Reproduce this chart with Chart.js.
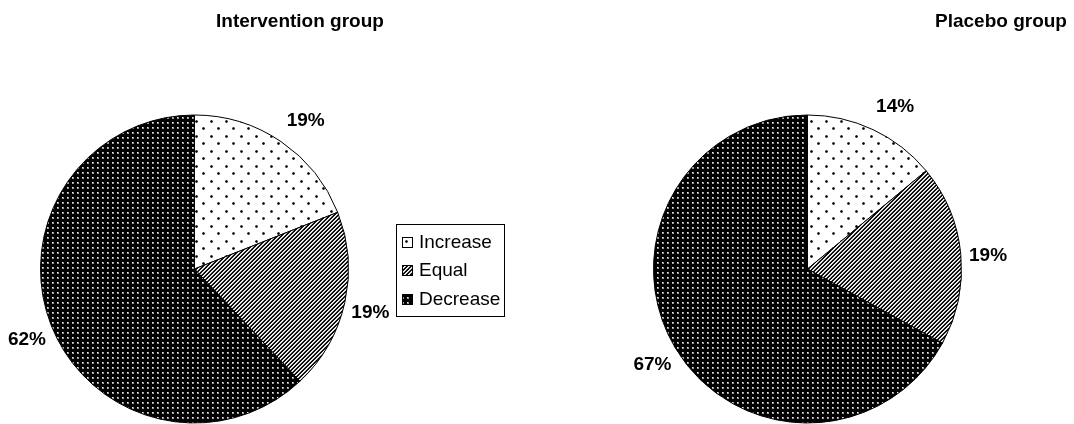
<!DOCTYPE html>
<html><head><meta charset="utf-8">
<script src="https://cdn.jsdelivr.net/npm/chart.js@4.4.0/dist/chart.umd.min.js"></script>
<style>
html,body{margin:0;padding:0;background:#fff;}
#wrap{position:relative;width:1074px;height:424px;overflow:hidden;background:#fff;}
canvas{position:absolute;top:0;}
</style></head><body>
<div id="wrap">
<canvas id="c1" width="540" height="424" style="left:0;width:540px;height:424px"></canvas>
<canvas id="c2" width="534" height="424" style="left:540px;width:534px;height:424px"></canvas>
</div>
<script>
const categories = ['Increase', 'Equal', 'Decrease'];
const interventionValues = [19, 19, 62];
const placeboValues = [14, 19, 67];
const chartTitles = ['Intervention group', 'Placebo group'];

const FONT = '"Liberation Sans", Arial, sans-serif';

function makeTile(w, h, draw) {
  const c = document.createElement('canvas');
  c.width = w; c.height = h;
  draw(c.getContext('2d'), w, h);
  return c;
}
const tiles = [
  makeTile(15, 15, (x) => {
    x.fillStyle = '#fff'; x.fillRect(0, 0, 15, 15);
    x.fillStyle = '#aaa'; x.fillRect(0, 0, 3, 3); x.fillRect(7, 7, 3, 3);
    x.fillStyle = '#333'; x.fillRect(1, 0, 1, 3); x.fillRect(0, 1, 3, 1);
    x.fillRect(8, 7, 1, 3); x.fillRect(7, 8, 3, 1);
    x.fillStyle = '#000'; x.fillRect(1, 1, 1, 1); x.fillRect(8, 8, 1, 1);
  }),
  makeTile(4, 4, (x) => {
    const img = x.createImageData(4, 4);
    const shades = [0, 30, 255, 200];
    for (let yy = 0; yy < 4; yy++) for (let xx = 0; xx < 4; xx++) {
      const v = shades[(xx + yy) % 4];
      const i = (yy * 4 + xx) * 4;
      img.data[i] = img.data[i + 1] = img.data[i + 2] = v; img.data[i + 3] = 255;
    }
    x.putImageData(img, 0, 0);
  }),
  makeTile(5, 5, (x) => {
    x.fillStyle = '#000'; x.fillRect(0, 0, 5, 5);
    x.fillStyle = '#999'; x.fillRect(2, 2, 2, 2);
    x.fillStyle = '#eee'; x.fillRect(2, 2, 1, 1);
  })
];

const labelPlugin = {
  id: 'pctLabels',
  afterDatasetsDraw(chart) {
    const ctx = chart.ctx;
    const meta = chart.getDatasetMeta(0);
    const vals = chart.data.datasets[0].data;
    ctx.save();
    ctx.font = 'bold 19px ' + FONT;
    ctx.fillStyle = '#000';
    ctx.textAlign = 'center';
    ctx.textBaseline = 'middle';
    meta.data.forEach((arc, i) => {
      const p = arc.getProps(['x', 'y', 'startAngle', 'endAngle', 'outerRadius'], true);
      const mid = (p.startAngle + p.endAngle) / 2;
      const c = Math.cos(mid), s = Math.sin(mid);
      const r = p.outerRadius * 1.17;
      const extraX = s < 0 ? 12 * (-s) * Math.sign(c) : 0;
      const extraY = s > -0.5 ? 3 : 0;
      ctx.fillText(vals[i] + '%', p.x + c * r + extraX, p.y + s * r + 1 + extraY);
    });
    ctx.restore();
  }
};

const titlePlugin = {
  id: 'topTitle',
  afterDraw(chart, args, opts) {
    const ctx = chart.ctx;
    ctx.save();
    ctx.font = 'bold 19px ' + FONT;
    ctx.fillStyle = '#000';
    ctx.textAlign = 'center';
    ctx.textBaseline = 'middle';
    ctx.fillText(opts.text, opts.x, opts.y);
    ctx.restore();
  }
};

const legendPlugin = {
  id: 'boxLegend',
  afterDraw(chart, args, opts) {
    if (!opts.show) return;
    const ctx = chart.ctx;
    const bg = chart.data.datasets[0].backgroundColor;
    ctx.save();
    ctx.strokeStyle = '#000';
    ctx.lineWidth = 1;
    ctx.strokeRect(396.5, 224.5, 108, 92);
    ctx.font = '19px ' + FONT;
    ctx.textBaseline = 'middle';
    ctx.textAlign = 'left';
    const ys = [242, 270, 299];
    chart.data.labels.forEach((lab, i) => {
      ctx.fillStyle = bg[i];
      ctx.fillRect(402, ys[i] - 5, 11, 11);
      ctx.strokeRect(402.5, ys[i] - 4.5, 10, 10);
      ctx.fillStyle = '#000';
      ctx.fillText(lab, 419, ys[i] + 1);
    });
    ctx.restore();
  }
};

function makeChart(id, values, title, titleX, padding, showLegend) {
  const canvas = document.getElementById(id);
  const ctx = canvas.getContext('2d');
  const patterns = tiles.map(t => ctx.createPattern(t, 'repeat'));
  return new Chart(ctx, {
    type: 'pie',
    data: {
      labels: categories,
      datasets: [{
        data: values,
        backgroundColor: patterns,
        borderColor: '#000',
        borderWidth: 1
      }]
    },
    options: {
      responsive: false,
      animation: false,
      events: [],
      layout: { padding: padding },
      plugins: {
        legend: { display: false },
        tooltip: { enabled: false },
        title: { display: false },
        topTitle: { text: title, x: titleX, y: 22 },
        boxLegend: { show: showLegend }
      }
    },
    plugins: [labelPlugin, titlePlugin, legendPlugin]
  });
}

makeChart('c1', interventionValues, chartTitles[0], 300,
  { left: 40, right: 191, top: 114, bottom: 0 }, true);
makeChart('c2', placeboValues, chartTitles[1], 461,
  { left: 113, right: 112, top: 114, bottom: 0 }, false);
</script>
</body></html>
